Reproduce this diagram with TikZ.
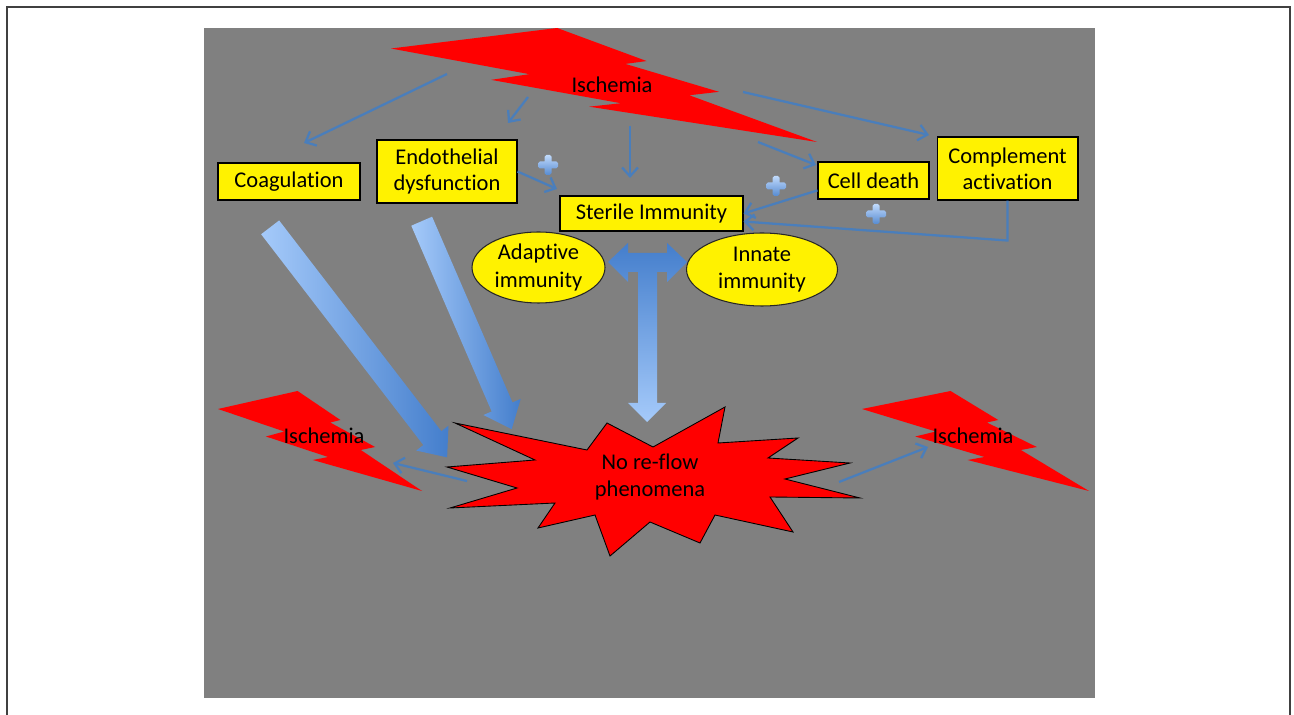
\documentclass[tikz,border=0pt]{standalone}
\usepackage{fontspec}
\setmainfont{Carlito}[Ligatures=NoCommon]
\usetikzlibrary{arrows.meta,shapes.geometric,shapes.arrows,shadows,calc}

\definecolor{slide}{RGB}{128,128,128}
\definecolor{linkblue}{RGB}{74,126,187}
\definecolor{pale}{RGB}{165,202,250}
\definecolor{deep}{RGB}{68,126,204}
\definecolor{frame}{RGB}{64,64,64}

\tikzstyle{cause}=[rectangle,draw=black,fill=yellow,line width=0.6pt,inner sep=0pt,align=center,font=\fontsize{12.8}{14.8}\selectfont,drop shadow={opacity=0.25,shadow xshift=1.5pt,shadow yshift=-1.5pt}]
\tikzstyle{immune}=[ellipse,draw=black!85,fill=yellow,line width=0.6pt,inner sep=0pt,align=center,font=\fontsize{12.8}{15.4}\selectfont,drop shadow={opacity=0.25,shadow xshift=1.5pt,shadow yshift=-1.5pt}]
\tikzstyle{boltlabel}=[inner sep=0pt,align=center,font=\fontsize{12.8}{15.4}\selectfont]
\tikzstyle{bolt}=[fill=red,drop shadow={opacity=0.3,shadow xshift=1.5pt,shadow yshift=-1.5pt}]
\tikzstyle{burst}=[fill=red,draw=black,line width=0.5pt,drop shadow={opacity=0.3,shadow xshift=1.5pt,shadow yshift=-1.5pt}]
\tikzstyle{link}=[draw=linkblue,line width=1.3pt,-{Straight Barb[length=5pt,width=9pt]}]
\tikzstyle{bigarrow}=[single arrow,inner xsep=0pt,inner ysep=0.22cm,single arrow head extend=0.18cm,single arrow tip angle=80,left color=pale,right color=deep]
\tikzstyle{plusfill}=[top color=pale!70!white,bottom color=deep!90!white]

\begin{document}
\begin{tikzpicture}[x=0.02cm,y=-0.02cm]
	\useasboundingbox (0,0) rectangle (1294,715);
	\fill[white] (0,0) rectangle (1294,715);
	\draw[frame,line width=1pt] (7,715) |- (1290,7) -- (1290,715);
	\fill[slide] (204,28) rectangle (1095,698);

	% lightning bolts: x/y/width/height
	\foreach \bx/\by/\bw/\bh in {391/28/426/114,218/391/204/100,862/391/227/100}
		\fill[bolt] (\bx,\by+0.18*\bh) -- (\bx+0.39*\bw,\by) -- (\bx+0.60*\bw,\by+0.29*\bh)
			-- (\bx+0.55*\bw,\by+0.315*\bh) -- (\bx+0.77*\bw,\by+0.56*\bh) -- (\bx+0.70*\bw,\by+0.59*\bh)
			-- (\bx+\bw,\by+\bh) -- (\bx+0.465*\bw,\by+0.69*\bh) -- (\bx+0.54*\bw,\by+0.66*\bh)
			-- (\bx+0.235*\bw,\by+0.455*\bh) -- (\bx+0.325*\bw,\by+0.405*\bh) -- cycle;

	% no re-flow burst
	\filldraw[burst] (455,423) -- (587,450) -- (607,423) -- (653,447) -- (725,407) -- (718,443)
		-- (798,438) -- (768,458) -- (850,463) -- (785,479) -- (860,498) -- (770,497)
		-- (793,532) -- (715,515) -- (700,543) -- (650,522) -- (610,556) -- (595,515)
		-- (538,528) -- (555,503) -- (450,508) -- (517,488) -- (447,467) -- (535,460) -- cycle;

	\node (isch) at (612,85) [boltlabel] {Ischemia};
	\node (ischl) at (324,436) [boltlabel] {Ischemia};
	\node (ischr) at (973,436) [boltlabel] {Ischemia};
	\node (noreflow) at (650,477) [boltlabel] {No re-flow\\phenomena};

	\node (coag) at (289,181.5) [cause,minimum width=2.84cm,minimum height=0.74cm] {Coagulation};
	\node (endo) at (447,171.5) [cause,minimum width=2.8cm,minimum height=1.26cm] {Endothelial\\dysfunction};
	\node (sterile) at (651.5,213.5) [cause,minimum width=3.66cm,minimum height=0.7cm] {Sterile Immunity};
	\node (cell) at (873.5,180.5) [cause,minimum width=2.22cm,minimum height=0.74cm] {Cell death};
	\node (compl) at (1007.5,168.5) [cause,minimum width=2.82cm,minimum height=1.26cm] {Complement\\activation};
	\node (adapt) at (538.5,267.5) [immune,minimum width=2.66cm,minimum height=1.42cm] {Adaptive\\immunity};
	\node (innate) at (762,269.5) [immune,minimum width=3.02cm,minimum height=1.46cm] {Innate\\immunity};

	% big arrows into the burst
	\coordinate (c1s) at (266,222);
	\coordinate (c1e) at (443,452);
	\coordinate (c2s) at (419,215);
	\coordinate (c2e) at (509,423);
	\path let \p1=($(c1e)-(c1s)$), \n1={veclen(\x1,\y1)} in
		(c1s) -- (c1e) node[midway,sloped,bigarrow,minimum height=\n1] (big1) {};
	\path let \p1=($(c2e)-(c2s)$), \n1={veclen(\x1,\y1)} in
		(c2s) -- (c2e) node[midway,sloped,bigarrow,minimum height=\n1] (big2) {};

	% double headed T arrow
	\shade[top color=deep,bottom color=pale] (608,262) -- (628,243) -- (628,253) -- (667,253)
		-- (667,243) -- (687,262) -- (667,282) -- (667,272) -- (657,272) -- (657,403)
		-- (666,403) -- (647,422) -- (628,403) -- (638,403) -- (638,272) -- (628,272)
		-- (628,282) -- cycle;

	% thin links
	\coordinate (a1) at (447,74);
	\coordinate (t1) at (304,143);
	\coordinate (a2) at (528,97);
	\coordinate (t2) at (508,123);
	\coordinate (a3) at (630,126);
	\coordinate (t3) at (630,178);
	\coordinate (a4) at (743,92);
	\coordinate (t4) at (929,135);
	\coordinate (a5) at (758,142);
	\coordinate (t5) at (816,165);
	\coordinate (t8) at (557,189);
	\coordinate (b9) at (467,481);
	\coordinate (t9) at (393,463);
	\coordinate (b10) at (839,482);
	\coordinate (t10) at (928,447);
	\draw[link] (a1) -- (t1);
	\draw[link] (a2) -- (t2);
	\draw[link] (a3) -- (t3);
	\draw[link] (a4) -- (t4);
	\draw[link] (a5) -- (t5);
	\draw[link] (cell.190) -- (sterile.east);
	\draw[link] (compl.south) -- ++(0,40) -- (sterile.-5);
	\draw[link] (endo.east) -- (t8);
	\draw[link] (b9) -- (t9);
	\draw[link] (b10) -- (t10);

	% plus signs
	\foreach \px/\py in {548/165,776/186,876/214}
		\shade[plusfill,rounded corners=1pt] (\px-3.5,\py-10) rectangle (\px+3.5,\py+10)
			(\px-10,\py-3.5) rectangle (\px+10,\py+3.5);
\end{tikzpicture}
\end{document}
